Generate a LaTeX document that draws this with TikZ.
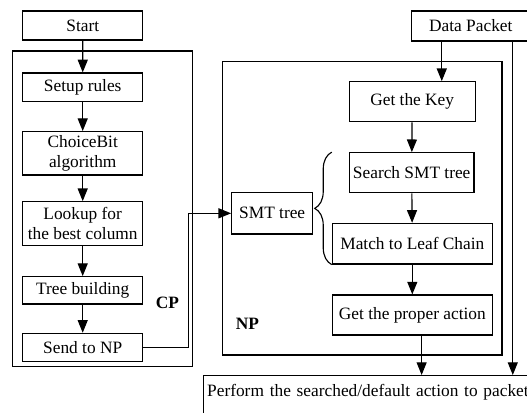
\documentclass[tikz,border=0pt]{standalone}
\usepackage{fontspec}
\setmainfont{Liberation Serif}
\usetikzlibrary{arrows.meta,decorations.pathreplacing}

\begin{document}
\begin{tikzpicture}[x=0.75pt,y=-0.75pt,
  font=\fontsize{13}{15}\selectfont,
  box/.style={draw, line width=0.85pt, align=center, inner sep=2pt},
  frame/.style={draw, line width=0.85pt},
  tag/.style={font=\fontsize{13}{15}\selectfont\bfseries},
  arr/.style={line width=0.85pt, -{Triangle[length=9.5pt,width=7.5pt]}}]
\useasboundingbox (0,0) rectangle (527,412);
\draw[frame] (12.3,51) rectangle (192.7,366.7);
\draw[frame] (222.7,61.7) rectangle (502,355);
\node[box, minimum width=90pt, minimum height=21.75pt] (start) at (82.8,25.5) {Start};
\node[box, minimum width=90pt, minimum height=21.5pt] (setup) at (82.7,87.3) {Setup rules};
\node[box, minimum width=90pt, minimum height=32.5pt] (choice) at (82.7,153.3) {ChoiceBit\\algorithm};
\node[box, minimum width=90pt, minimum height=33pt] (lookup) at (82.7,223.7) {Lookup for\\the best column};
\node[box, minimum width=90pt, minimum height=20.5pt] (tree) at (82.7,290.3) {Tree building};
\node[box, minimum width=90pt, minimum height=20.8pt] (send) at (82.7,347.2) {Send to NP};
\node[tag] (cp) at (167.5,303) {CP};
\node[box, minimum width=88.7pt, minimum height=22.5pt] (dp) at (470.8,26) {Data Packet};
\node[box, minimum width=94.3pt, minimum height=30pt] (key) at (412.2,101.7) {Get the Key};
\node[box, minimum width=93.5pt, minimum height=30pt] (search) at (411.7,172.7) {Search SMT tree};
\node[box, minimum width=60.75pt, minimum height=31pt] (smt) at (272.2,213.3) {SMT tree};
\node[box, minimum width=120pt, minimum height=30.5pt] (match) at (412.3,243.7) {Match to Leaf Chain};
\node[box, minimum width=120pt, minimum height=30pt] (act) at (412.3,315) {Get the proper action};
\node[tag] (np) at (247.5,324) {NP};
\node[box, anchor=north west, align=left, text width=250pt, inner xsep=2.5pt, inner ysep=0pt, text height=16pt, text depth=30pt] (perf) at (203.3,375) {Perform the searched/default action to packet};
\draw[arr] (start) -- (setup);
\draw[arr] (setup) -- (choice);
\draw[arr] (choice) -- (lookup);
\draw[arr] (lookup) -- (tree);
\draw[arr] (tree) -- (send);
\draw[arr] (send.east) -- ++(45,0) |- (smt.west);
\coordinate (dpin) at ([xshift=23pt]dp.south west);
\coordinate (dpout) at ([xshift=-13.3pt]dp.south east);
\coordinate (actout) at ([xshift=7pt]act.south);
\draw[arr] (dpin) -- (dpin |- key.north);
\draw[arr] (key) -- (search);
\draw[arr] (search) -- (match);
\draw[arr] (match) -- (act);
\draw[arr] (actout) -- (actout |- perf.north);
\draw[arr] (dpout) -- (dpout |- perf.north);
\draw[line width=0.85pt, decorate, decoration={brace, amplitude=12.75pt}] (match.south west) -- (match.south west |- search.north);
\end{tikzpicture}
\end{document}
